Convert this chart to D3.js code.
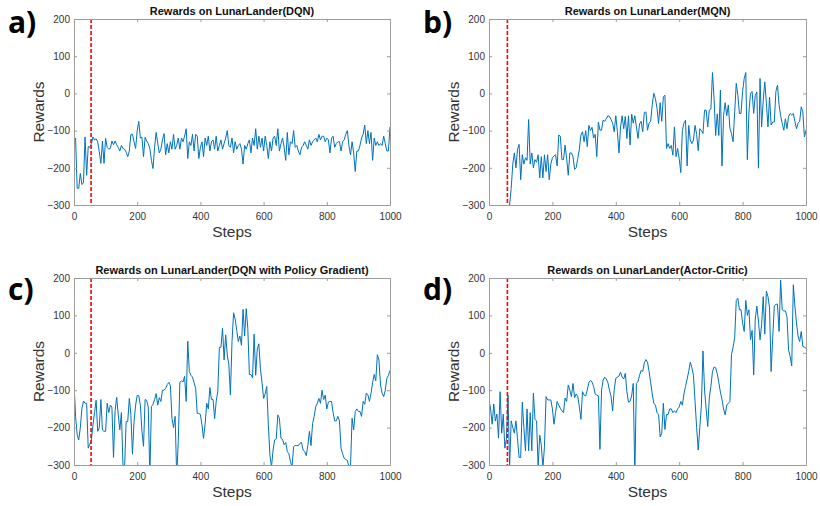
<!DOCTYPE html>
<html><head><meta charset="utf-8">
<script src="https://cdn.jsdelivr.net/npm/d3@7"></script>
<style>body{margin:0;background:#fff}svg{display:block}</style>
</head><body><svg id="chart" width="820" height="506"></svg>
<script>
// ---------- data ----------
const titles = [
  "Rewards on LunarLander(DQN)",
  "Rewards on LunarLander(MQN)",
  "Rewards on LunarLander(DQN with Policy Gradient)",
  "Rewards on LunarLander(Actor-Critic)"
];
const panelLabels = ["a)", "b)", "c)", "d)"];
const xTicks = [0, 200, 400, 600, 800, 1000];
const yTicks = [-300, -200, -100, 0, 100, 200];
const xLabel = "Steps";
const yLabel = "Rewards";
const redLineSteps = [54, 58, 54, 58];
const stepSize = 5;
const seriesStart = [5, 60, 0, 0];

const dqnRewards = [
  -120, -255, -255, -215, -245, -240, -117, -220, -143, -145,
  -135, -117, -125, -122, -130, -157, -188, -128, -188, -121,
  -145, -150, -148, -128, -138, -128, -138, -145, -155, -140,
  -148, -150, -158, -170, -155, -110, -110, -130, -148, -100,
  -75, -120, -118, -170, -118, -128, -135, -148, -180, -202,
  -145, -105, -135, -160, -150, -125, -108, -165, -135, -160,
  -130, -150, -110, -150, -140, -120, -150, -120, -130, -115,
  -95, -175, -130, -140, -110, -155, -110, -115, -175, -145,
  -130, -170, -120, -140, -115, -155, -130, -125, -150, -115,
  -155, -140, -125, -150, -135, -120, -100, -140, -145, -120,
  -160, -130, -150, -140, -135, -150, -190, -140, -150, -135,
  -125, -160, -120, -140, -95, -150, -115, -145, -120, -155,
  -115, -140, -175, -130, -155, -120, -115, -140, -95, -155,
  -135, -120, -145, -180, -105, -165, -130, -135, -100, -145,
  -140, -155, -165, -145, -140, -130, -140, -150, -125, -140,
  -130, -125, -120, -130, -110, -125, -115, -115, -130, -120,
  -125, -160, -120, -115, -145, -135, -130, -130, -155, -130,
  -125, -110, -100, -140, -165, -130, -160, -210, -155, -155,
  -140, -120, -110, -85, -135, -100, -135, -105, -180, -120,
  -140, -130, -140, -135, -140, -115, -135, -155, -155, -90
];
const mqnRewards = [
  -320, -300, -255, -190, -160, -200, -150, -137, -232, -165,
  -190, -173, -180, -70, -190, -160, -200, -178, -185, -165,
  -227, -170, -227, -165, -210, -165, -232, -190, -173, -168,
  -165, -195, -112, -115, -178, -178, -139, -175, -220, -160,
  -160, -170, -204, -200, -175, -150, -112, -103, -130, -100,
  -143, -86, -100, -91, -120, -110, -170, -77, -99, -99,
  -72, -75, -68, -60, -62, -70, -80, -103, -60, -103,
  -160, -90, -60, -95, -62, -121, -60, -139, -56, -80,
  -60, -90, -121, -82, -75, -103, -51, -50, -99, -80,
  -75, -30, 0, -14, -40, -81, -25, -75, -9, -5,
  -148, -135, -148, -140, -166, -90, -170, -148, -175, -213,
  -100, -80, -72, -195, -86, -125, -135, -125, -86, -110,
  -154, -95, -100, -108, -45, -45, -90, -45, -42, 56,
  -14, -113, -55, -113, 9, -195, -60, -25, -60, -31,
  -94, -108, -130, -50, 27, -5, -54, -54, 5, 40,
  56, -178, -50, 0, 5, -54, -5, 4, -201, 40,
  -90, -20, 31, -25, -90, -10, -85, -77, -77, 5,
  22, -30, -60, -81, -99, -68, -95, -62, -54, -58,
  -54, -75, -95, -80, -75, -36, -50, -117, -99
];
const pgRewards = [
  -80, -170, -219, -233, -200, -150, -129, -135, -135, -255,
  -245, -233, -193, -160, -127, -210, -200, -125, -206, -210,
  -210, -135, -160, -140, -145, -280, -155, -119, -165, -206,
  -160, -300, -310, -184, -184, -122, -165, -271, -184, -140,
  -114, -115, -140, -210, -250, -125, -127, -145, -330, -144,
  -138, -125, -109, -140, -120, -130, -100, -100, -95, -85,
  -79, -88, -175, -200, -170, -330, -237, -79, -75, -78,
  -63, -130, 31, -50, -60, -65, -80, -95, -162, -162,
  -165, -193, -229, -190, -135, -150, -93, -125, -125, -176,
  -130, -104, 14, 15, 66, -19, 48, -6, -30, -113,
  30, 107, 90, 60, 30, 45, 20, 116, 45, 118,
  66, -58, -58, -67, 50, -60, 10, 24, -43, -80,
  -122, -110, -90, -193, -273, -305, -260, -233, -230, -166,
  -175, -229, -232, -246, -240, -264, -270, -291, -305, -251,
  -248, -248, -248, -242, -240, -260, -264, -275, -248, -210,
  -248, -189, -170, -144, -135, -122, -135, -100, -125, -113,
  -150, -132, -130, -130, -160, -182, -182, -170, -182, -255,
  -270, -282, -285, -288, -305, -305, -175, -206, -157, -150,
  -157, -157, -170, -130, -138, -108, -112, -130, -108, -80,
  -58, -75, -5, -20, -86, -108, -117, -100, -69, -60,
  -47
];
const acRewards = [
  -125, -150, -191, -137, -182, -164, -228, -104, -215, -164,
  -255, -230, -113, -305, -182, -200, -215, -182, -230, -280,
  -280, -132, -200, -262, -150, -262, -160, -262, -108, -178,
  -182, -305, -220, -246, -310, -250, -117, -126, -126, -126,
  -150, -191, -160, -130, -140, -148, -155, -160, -121, -130,
  -86, -100, -117, -82, -120, -110, -117, -144, -178, -104,
  -113, -115, -100, -80, -74, -78, -90, -110, -113, -115,
  -258, -100, -73, -65, -70, -80, -100, -117, -155, -100,
  -68, -65, -62, -52, -65, -70, -55, -104, -132, -130,
  -115, -82, -330, -82, -77, -60, -47, -50, -27, -18,
  -25, -50, -80, -110, -135, -140, -160, -165, -225, -215,
  -135, -205, -165, -165, -150, -150, -160, -155, -160, -150,
  -145, -130, -140, -110, -90, -70, -50, -25, -40, -60,
  -130, -200, -260, -200, -140, 5, -100, -150, -197, -120,
  -90, -50, -38, -40, -55, -80, -105, -125, -150, -166,
  -140, -135, -130, -5, 15, 40, 140, 146, 115, 115,
  80, 57, 140, 100, 115, 35, 60, -59, 90, 125,
  85, 35, 75, 150, 50, 165, 150, 120, -50, 40,
  125, 130, 130, 57, 194, 115, 112, 112, 97, 8,
  -10, -35, 182, 125, 80, 45, 30, 57, 17, 15,
  12
];
const seriesValues = [dqnRewards, mqnRewards, pgRewards, acRewards];

// ---------- layout ----------
const boxes = [
  {x0: 74, x1: 390, y0: 19, y1: 205, lx: 8},
  {x0: 489, x1: 806, y0: 19, y1: 205, lx: 423},
  {x0: 74, x1: 390, y0: 278, y1: 465, lx: 8},
  {x0: 489, x1: 806, y0: 278, y1: 465, lx: 423}
];
const font = "'Liberation Sans', Arial, Helvetica, sans-serif";
const boxColor = "#9b9b9b";
const textColor = "#333333";

const svg = d3.select("#chart");
const defs = svg.append("defs");

boxes.forEach((b, i) => {
  const x = d3.scaleLinear().domain([0, 1000]).range([b.x0, b.x1]);
  const y = d3.scaleLinear().domain([-300, 200]).range([b.y1, b.y0]);
  const g = svg.append("g");

  defs.append("clipPath").attr("id", "clip" + i).append("rect")
    .attr("x", b.x0).attr("y", b.y0).attr("width", b.x1 - b.x0).attr("height", b.y1 - b.y0);

  // data line
  const pts = seriesValues[i].map((v, k) => [seriesStart[i] + k * stepSize, v]);
  g.append("path").datum(pts)
    .attr("clip-path", `url(#clip${i})`)
    .attr("fill", "none").attr("stroke", "#0072BD").attr("stroke-width", 1)
    .attr("stroke-linejoin", "round")
    .attr("d", d3.line().x(d => x(d[0])).y(d => y(d[1])));

  // red dashed marker
  g.append("line")
    .attr("x1", x(redLineSteps[i])).attr("x2", x(redLineSteps[i]))
    .attr("y1", y(200)).attr("y2", y(-300))
    .attr("stroke", "#ff0000").attr("stroke-width", 1.6).attr("stroke-dasharray", "4,2");

  // axes
  const styleAxis = sel => {
    sel.selectAll("path.domain").attr("stroke", boxColor).attr("stroke-width", 1).attr("fill", "none");
    sel.selectAll(".tick line").attr("stroke", boxColor);
    sel.selectAll(".tick text").attr("fill", textColor).style("font-family", font).style("font-size", "10px");
  };
  const fmt = d3.format("d");
  g.append("g").attr("transform", `translate(0,${b.y1})`)
    .call(d3.axisBottom(x).tickValues(xTicks).tickFormat(fmt).tickSizeInner(-3).tickSizeOuter(0).tickPadding(8))
    .call(styleAxis);
  g.append("g").attr("transform", `translate(0,${b.y0})`)
    .call(d3.axisTop(x).tickValues(xTicks).tickSizeInner(-3).tickSizeOuter(0).tickFormat(""))
    .call(styleAxis);
  g.append("g").attr("transform", `translate(${b.x0},0)`)
    .call(d3.axisLeft(y).tickValues(yTicks).tickFormat(fmt).tickSizeInner(-3).tickSizeOuter(0).tickPadding(4))
    .call(styleAxis);
  g.append("g").attr("transform", `translate(${b.x1},0)`)
    .call(d3.axisRight(y).tickValues(yTicks).tickSizeInner(-3).tickSizeOuter(0).tickFormat(""))
    .call(styleAxis);

  // title
  g.append("text").attr("x", (b.x0 + b.x1) / 2).attr("y", b.y0 - 4)
    .attr("text-anchor", "middle").style("font-family", font).style("font-size", "11px")
    .style("font-weight", "bold").attr("fill", "#111").text(titles[i]);

  // axis labels
  g.append("text").attr("x", (b.x0 + b.x1) / 2).attr("y", b.y1 + 32)
    .attr("text-anchor", "middle").style("font-family", font).style("font-size", "15.5px")
    .attr("fill", textColor).text(xLabel);
  g.append("text").attr("transform", `translate(${b.x0 - 30},${(b.y0 + b.y1) / 2}) rotate(-90)`)
    .attr("text-anchor", "middle").style("font-family", font).style("font-size", "15.5px")
    .attr("fill", textColor).text(yLabel);

  // panel label
  g.append("text").attr("x", b.lx).attr("y", b.y0 + (i < 2 ? 14 : 22))
    .style("font-family", "'Open Sans', 'Noto Sans', sans-serif").style("font-size", "30px")
    .style("font-weight", "bold").attr("fill", "#000").text(panelLabels[i]);
});
</script>
</body></html>
